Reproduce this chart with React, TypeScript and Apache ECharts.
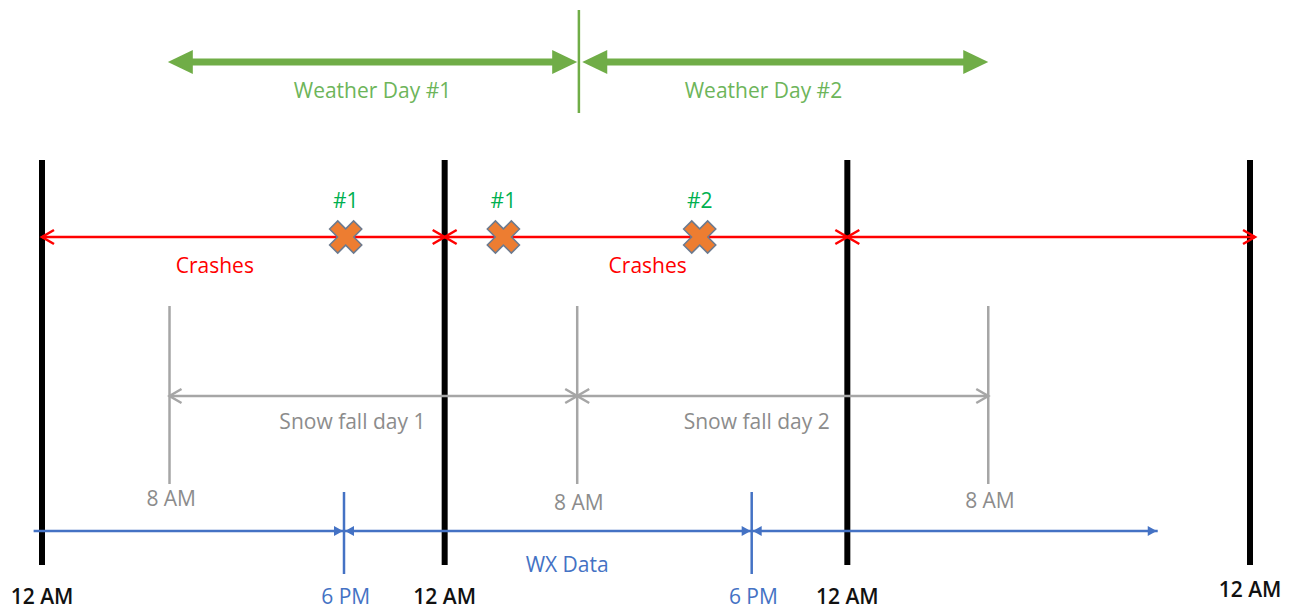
import React, { useEffect, useRef } from "react";
import * as echarts from "echarts";

// ---- data (hours from first midnight) ----
const dayBoundaries = [0, 24, 48, 72];
const boundaryLabels = ["12 AM", "12 AM", "12 AM", "12 AM"];

const weatherDays = [
  [7.5, 31.9],
  [32.2, 56.4],
];
const weatherLabels = ["Weather Day #1", "Weather Day #2"];
const weatherLabelAt = [19.7, 43.0];
const weatherDivider = 32.0;

const crashWindows = [
  [0, 24],
  [24, 48],
  [48, 72.3],
];
const crashLabelAt = [10.3, 36.1];
const crashTimes = [18.1, 27.5, 39.2];
const crashIds = ["#1", "#1", "#2"];

const snowStarts = [7.6, 31.9, 56.4];
const snowLabels = ["Snow fall day 1", "Snow fall day 2"];
const snowLabelAt = [18.5, 42.6];
const snowTickLabels = ["8 AM", "8 AM", "8 AM"];

const wxSegments = [
  [-0.5, 18.0],
  [18.0, 42.3],
  [42.3, 66.5],
];
const wxBreaks = [18.0, 42.3];
const wxBreakLabels = ["6 PM", "6 PM"];
const wxLabel = "WX Data";
const wxLabelAt = 31.3;

// ---- styles ----
const FONT = "Open Sans, Lato, sans-serif";
const GREEN = "#70AD47";
const GREEN_TEXT = "#6DB55A";
const RED = "#FF0000";
const GRAY = "#A6A6A6";
const GRAY_TEXT = "#8C8C8C";
const BLUE = "#4472C4";
const ORANGE = "#ED7D31";
const ID_GREEN = "#00B050";
const FS = 21;

const X_PATH = "path://M3.3,0L6.7,0L6.7,3.3L10,3.3L10,6.7L6.7,6.7L6.7,10L3.3,10L3.3,6.7L0,6.7L0,3.3L3.3,3.3Z";

function textEl(p: number[], text: string, fill: string, size: number, weight = "normal") {
  return {
    type: "text",
    x: p[0],
    y: p[1],
    style: {
      text,
      fill,
      fontSize: size,
      fontFamily: FONT,
      fontWeight: weight,
      align: "center",
      verticalAlign: "middle",
    },
  };
}

function chevron(tip: number[], dir: number, L: number, H: number, color: string, lw: number) {
  return {
    type: "polyline",
    shape: {
      points: [
        [tip[0] - dir * L, tip[1] - H],
        [tip[0], tip[1]],
        [tip[0] - dir * L, tip[1] + H],
      ],
    },
    style: { stroke: color, lineWidth: lw, fill: "none" },
  };
}

function triangle(tip: number[], dir: number, L: number, H: number, color: string) {
  return {
    type: "polygon",
    shape: {
      points: [
        [tip[0], tip[1]],
        [tip[0] - dir * L, tip[1] - H],
        [tip[0] - dir * L, tip[1] + H],
      ],
    },
    style: { fill: color },
  };
}

export default function App() {
  const ref = useRef<HTMLDivElement>(null);

  useEffect(() => {
    document.body.style.margin = "0";
    const chart = echarts.init(ref.current!, null, { renderer: "svg" });

    const Y_GREEN = 62;
    const Y_RED = 237;
    const Y_GRAY = 396;
    const Y_BLUE = 531;
    const Y_BOTTOM_LABEL = 596;

    const option: any = {
      animation: false,
      grid: { left: 42, right: 50, top: 0, bottom: 0 },
      xAxis: { type: "value", min: 0, max: 72, show: false },
      yAxis: { type: "value", min: 0, max: 612, inverse: true, show: false },
      series: [
        // black day boundaries
        {
          type: "custom",
          data: dayBoundaries.map((d, i) => [d, i]),
          renderItem: (params: any, api: any) => {
            const x = api.value(0);
            const i = params.dataIndex;
            const a = api.coord([x, 160]);
            const b = api.coord([x, 565]);
            const lab = api.coord([x, i === 3 ? 589 : Y_BOTTOM_LABEL]);
            return {
              type: "group",
              children: [
                { type: "line", shape: { x1: a[0], y1: a[1], x2: b[0], y2: b[1] }, style: { stroke: "#000", lineWidth: 6 } },
                textEl(lab, boundaryLabels[i], "#111", 21, "600"),
              ],
            };
          },
        },
        // green weather days
        {
          type: "custom",
          data: weatherDays,
          renderItem: (params: any, api: any) => {
            const i = params.dataIndex;
            const a = api.coord([api.value(0), Y_GREEN]);
            const b = api.coord([api.value(1), Y_GREEN]);
            const L = 25, H = 12;
            const t = api.coord([weatherLabelAt[i], 90]);
            return {
              type: "group",
              children: [
                { type: "line", shape: { x1: a[0] + L - 2, y1: a[1], x2: b[0] - L + 2, y2: b[1] }, style: { stroke: GREEN, lineWidth: 7 } },
                triangle(a, -1, L, H, GREEN),
                triangle(b, 1, L, H, GREEN),
                textEl(t, weatherLabels[i], GREEN_TEXT, FS),
              ],
            };
          },
        },
        {
          type: "custom",
          data: [[weatherDivider, 0]],
          renderItem: (params: any, api: any) => {
            const a = api.coord([api.value(0), 10]);
            const b = api.coord([api.value(0), 113]);
            return { type: "line", shape: { x1: a[0], y1: a[1], x2: b[0], y2: b[1] }, style: { stroke: GREEN, lineWidth: 2.5 } };
          },
        },
        // red crash windows
        {
          type: "custom",
          data: crashWindows,
          renderItem: (params: any, api: any) => {
            const a = api.coord([api.value(0), Y_RED]);
            const b = api.coord([api.value(1), Y_RED]);
            return {
              type: "group",
              children: [
                { type: "line", shape: { x1: a[0], y1: a[1], x2: b[0], y2: b[1] }, style: { stroke: RED, lineWidth: 2.5 } },
                chevron(a, -1, 12, 7, RED, 2.5),
                chevron(b, 1, 12, 7, RED, 2.5),
              ],
            };
          },
        },
        {
          type: "custom",
          data: crashLabelAt.map((x, i) => [x, i]),
          renderItem: (params: any, api: any) => textEl(api.coord([api.value(0), 265]), "Crashes", RED, FS),
        },
        // crash markers
        {
          type: "scatter",
          data: crashTimes.map((x) => [x, Y_RED]),
          symbol: X_PATH,
          symbolSize: 34,
          symbolRotate: 45,
          itemStyle: { color: ORANGE, borderColor: "#6B7A8F", borderWidth: 1.5, opacity: 1 },
          label: {
            show: true,
            position: "top",
            distance: 1,
            formatter: (p: any) => crashIds[p.dataIndex],
            color: ID_GREEN,
            fontSize: FS,
            fontFamily: FONT,
          },
          z: 5,
        },
        // gray snow fall
        {
          type: "custom",
          data: snowStarts.map((x, i) => [x, i]),
          renderItem: (params: any, api: any) => {
            const i = params.dataIndex;
            const x = api.value(0);
            const a = api.coord([x, 306]);
            const b = api.coord([x, 484]);
            const children: any[] = [
              { type: "line", shape: { x1: a[0], y1: a[1], x2: b[0], y2: b[1] }, style: { stroke: GRAY, lineWidth: 2.5 } },
              textEl(api.coord([x + 0.1, i === 1 ? 502 : i === 0 ? 498 : 500]), snowTickLabels[i], GRAY_TEXT, FS),
            ];
            if (i < snowStarts.length - 1) {
              const s = api.coord([x, Y_GRAY]);
              const e = api.coord([snowStarts[i + 1], Y_GRAY]);
              children.push(
                { type: "line", shape: { x1: s[0], y1: s[1], x2: e[0], y2: e[1] }, style: { stroke: GRAY, lineWidth: 2.5 } },
                chevron(s, -1, 12, 7, GRAY, 2.5),
                chevron(e, 1, 12, 7, GRAY, 2.5),
                textEl(api.coord([snowLabelAt[i], 421]), snowLabels[i], GRAY_TEXT, FS)
              );
            }
            return { type: "group", children };
          },
        },
        // blue WX data
        {
          type: "custom",
          data: wxSegments,
          renderItem: (params: any, api: any) => {
            const i = params.dataIndex;
            const a = api.coord([api.value(0), Y_BLUE]);
            const b = api.coord([api.value(1), Y_BLUE]);
            const children: any[] = [
              { type: "line", shape: { x1: a[0], y1: a[1], x2: b[0], y2: b[1] }, style: { stroke: BLUE, lineWidth: 2.5 } },
              triangle([b[0] - 1, b[1]], 1, 9, 5, BLUE),
            ];
            if (i > 0) children.push(triangle([a[0] + 1, a[1]], -1, 9, 5, BLUE));
            return { type: "group", children };
          },
        },
        {
          type: "custom",
          data: wxBreaks.map((x, i) => [x, i]),
          renderItem: (params: any, api: any) => {
            const i = params.dataIndex;
            const x = api.value(0);
            const a = api.coord([x, 492]);
            const b = api.coord([x, 574]);
            return {
              type: "group",
              children: [
                { type: "line", shape: { x1: a[0], y1: a[1], x2: b[0], y2: b[1] }, style: { stroke: BLUE, lineWidth: 2.5 } },
                textEl(api.coord([x + 0.1, Y_BOTTOM_LABEL]), wxBreakLabels[i], BLUE, FS),
              ],
            };
          },
        },
        {
          type: "custom",
          data: [[wxLabelAt, 0]],
          renderItem: (params: any, api: any) => textEl(api.coord([api.value(0), 564]), wxLabel, BLUE, FS),
        },
      ],
    };

    chart.setOption(option);
    return () => chart.dispose();
  }, []);

  return (
    <div
      ref={ref}
      style={{ position: "absolute", left: 0, top: 0, width: 1300, height: 612, background: "#fff" }}
    />
  );
}
